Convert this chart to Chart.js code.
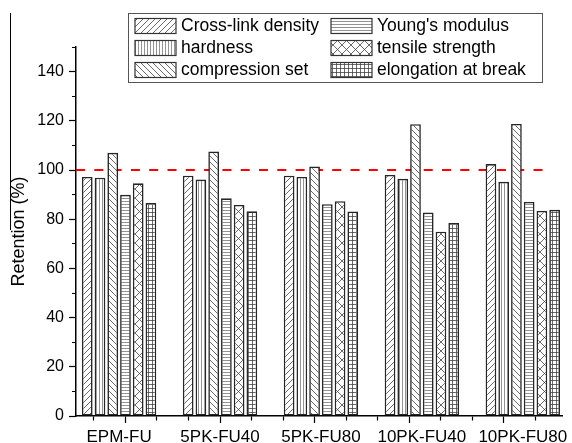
<!DOCTYPE html>
<html>
<head>
<meta charset="utf-8">
<script src="https://cdn.jsdelivr.net/npm/chart.js@4.4.1/dist/chart.umd.min.js"></script>
<style>
  html, body { margin: 0; padding: 0; background: #fff; overflow: hidden; }
  #wrap { width: 572px; height: 443px; position: relative; }
</style>
</head>
<body>
<div id="wrap"><canvas id="chart"></canvas></div>
<script>
// data (Retention, %)
const categories = ['EPM-FU', '5PK-FU40', '5PK-FU80', '10PK-FU40', '10PK-FU80'];
const crossLinkDensity = [97.2, 97.7, 97.7, 98.0, 102.4];
const hardness = [96.9, 96.1, 97.2, 96.4, 95.2];
const compressionSet = [107.0, 107.5, 101.4, 118.6, 118.7];
const youngsModulus = [89.9, 88.5, 86.1, 82.7, 87.0];
const tensileStrength = [94.6, 85.8, 87.3, 74.9, 83.4];
const elongationAtBreak = [86.6, 83.2, 83.1, 78.5, 83.8];
const referenceLevel = 100;
const yMax = 150;
const yTickStep = 10;
const yLabelStep = 20;

// x axis range in group units (group n sits at x = n)
const xMin = 0.573, xMax = 5.39;
const refLineEnd = 5.25;
const xMinorStep = 0.3125;

const FONT = "'Liberation Sans', Arial, sans-serif";
Chart.defaults.font.family = FONT;
Chart.defaults.color = '#000';

const canvas = document.getElementById('chart');
const ctx = canvas.getContext('2d');

// hatch fills like the Origin patterns
function makeHatch(kind) {
  const sizes = { '/': [6, 6], '\\': [6, 6], 'v': [3, 3], 'h': [3, 3], 'x': [9, 9], '+': [4, 4] };
  const [w, h] = sizes[kind];
  const c = document.createElement('canvas');
  c.width = w; c.height = h;
  const g = c.getContext('2d');
  g.fillStyle = '#fff';
  g.fillRect(0, 0, w, h);
  g.strokeStyle = kind === 'v' || kind === 'h' ? '#777' : '#444';
  g.lineWidth = 0.8;
  g.beginPath();
  if (kind === '/' || kind === 'x') {
    g.moveTo(0, h); g.lineTo(w, 0);
    g.moveTo(-1, 1); g.lineTo(1, -1);
    g.moveTo(w - 1, h + 1); g.lineTo(w + 1, h - 1);
  }
  if (kind === '\\' || kind === 'x') {
    g.moveTo(0, 0); g.lineTo(w, h);
    g.moveTo(w - 1, -1); g.lineTo(w + 1, 1);
    g.moveTo(-1, h - 1); g.lineTo(1, h + 1);
  }
  if (kind === 'v' || kind === '+') { g.moveTo(0.5, 0); g.lineTo(0.5, h); }
  if (kind === 'h' || kind === '+') { g.moveTo(0, 0.5); g.lineTo(w, 0.5); }
  g.stroke();
  return ctx.createPattern(c, 'repeat');
}

const series = [
  { label: 'Cross-link density', data: crossLinkDensity, hatch: '/' },
  { label: 'hardness', data: hardness, hatch: 'v' },
  { label: 'compression set', data: compressionSet, hatch: '\\' },
  { label: "Young's modulus", data: youngsModulus, hatch: 'h' },
  { label: 'tensile strength', data: tensileStrength, hatch: 'x' },
  { label: 'elongation at break', data: elongationAtBreak, hatch: '+' }
];

const datasets = series.map(s => ({
  type: 'bar',
  label: s.label,
  data: s.data.map((v, i) => ({ x: i + 1, y: v })),
  backgroundColor: makeHatch(s.hatch),
  borderColor: '#262626',
  borderWidth: 1.6,
  borderSkipped: false,
  categoryPercentage: 0.757,
  barPercentage: 0.84,
  xAxisID: 'x',
  yAxisID: 'y',
  order: 1
}));

// red dashed 100 % line, drawn behind the bars
datasets.push({
  type: 'line',
  label: 'reference',
  data: [{ x: xMin, y: referenceLevel }, { x: refLineEnd, y: referenceLevel }],
  borderColor: '#ff0000',
  borderWidth: 2,
  borderDash: [9, 9.3],
  pointRadius: 0,
  fill: false,
  xAxisID: 'x',
  yAxisID: 'y',
  order: 10
});

// tick marks on the x axis (they don't sit on the group centres)
const xTickMarks = [];
for (let v = 2 - 4 * xMinorStep; v <= xMax; v += xMinorStep) xTickMarks.push(v);

const boxLegend = {
  id: 'boxLegend',
  afterDraw(chart) {
    const c = chart.ctx;
    const items = chart.data.datasets.filter(d => d.type === 'bar');
    c.save();
    // stray frame line from the cropped figure
    c.strokeStyle = '#000';
    c.lineWidth = 1;
    c.beginPath(); c.moveTo(10.5, 13); c.lineTo(10.5, 230); c.stroke();

    const bx = 128.5, by = 13.5, bw = 414, bh = 69;
    c.fillStyle = '#fff';
    c.fillRect(bx, by, bw, bh);
    c.strokeStyle = '#555';
    c.strokeRect(bx, by, bw, bh);
    c.font = '17.5px ' + FONT;
    c.textBaseline = 'middle';
    items.forEach((ds, i) => {
      const col = Math.floor(i / 3), row = i % 3;
      const sx = bx + 6.5 + col * 196, sy = by + 5 + row * 22;
      c.fillStyle = ds.backgroundColor;
      c.fillRect(sx, sy, 41, 15);
      c.strokeStyle = '#333';
      c.lineWidth = 1.2;
      c.strokeRect(sx, sy, 41, 15);
      c.fillStyle = '#000';
      c.fillText(ds.label, sx + 46, sy + 8);
    });
    c.restore();
  }
};

new Chart(ctx, {
  type: 'bar',
  data: { datasets: datasets },
  options: {
    responsive: true,
    maintainAspectRatio: false,
    animation: false,
    layout: { padding: { top: 47, left: 0, right: 0, bottom: 0 } },
    plugins: { legend: { display: false }, tooltip: { enabled: false } },
    scales: {
      x: {
        type: 'linear',
        position: 'bottom',
        min: xMin,
        max: xMax,
        offset: false,
        weight: 1,
        afterBuildTicks: s => { s.ticks = categories.map((_, i) => ({ value: i + 1 })); },
        afterFit: s => { s.height = 20; },
        grid: { display: false, drawTicks: false, offset: false },
        border: { display: false },
        ticks: {
          autoSkip: false,
          maxRotation: 0,
          padding: 4,
          color: '#000',
          font: { size: 17 },
          callback: v => categories[Math.round(v) - 1] || ''
        }
      },
      xt: {
        type: 'linear',
        position: 'bottom',
        min: xMin,
        max: xMax,
        offset: false,
        weight: 0,
        afterBuildTicks: s => { s.ticks = xTickMarks.map(v => ({ value: v })); },
        afterFit: s => { s.height = 7; },
        grid: {
          drawOnChartArea: false,
          drawTicks: true,
          tickLength: 7,
          tickColor: '#000',
          tickWidth: 1.2,
          offset: false,
          // every third mark is a long one, the rest are short
          tickBorderDash: c => (c.index % 3 === 1 ? [] : [4, 100])
        },
        border: { display: true, color: '#000', width: 1.5 },
        ticks: { display: false }
      },
      y: {
        type: 'linear',
        position: 'left',
        min: 0,
        max: yMax,
        afterFit: s => { s.width = 76; },
        ticks: {
          stepSize: yTickStep,
          autoSkip: false,
          padding: 5,
          color: '#000',
          font: { size: 16 },
          callback: v => (v % yLabelStep === 0 ? v : '')
        },
        grid: {
          drawOnChartArea: false,
          drawTicks: true,
          tickLength: 7,
          tickColor: '#000',
          tickWidth: 1.2,
          tickBorderDash: c => (c.tick && c.tick.value % yLabelStep !== 0 ? [0, 3, 4, 100] : [])
        },
        border: { display: true, color: '#000', width: 1.5 },
        title: {
          display: true,
          text: 'Retention (%)',
          color: '#000',
          font: { size: 18 },
          padding: { top: 8, bottom: 0 }
        }
      }
    }
  },
  plugins: [boxLegend]
});
</script>
</body>
</html>
